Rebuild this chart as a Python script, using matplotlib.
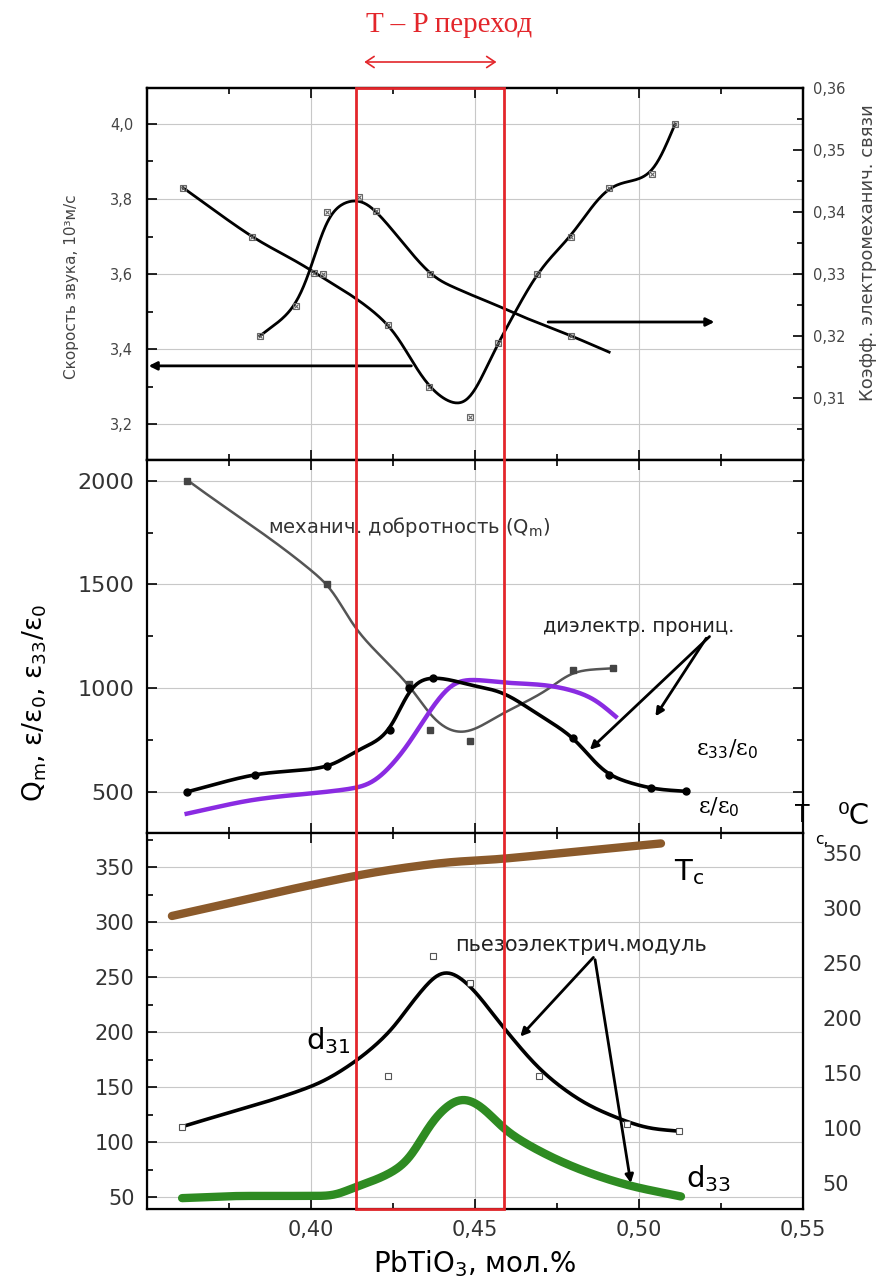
import numpy as np
import matplotlib
matplotlib.use("Agg")
import matplotlib.pyplot as plt
import matplotlib.transforms as mtransforms
from matplotlib.patches import Rectangle, FancyArrowPatch
from matplotlib.ticker import MultipleLocator, FuncFormatter

# ---- data ----
# top panel: speed of sound (left axis), 10^3 m/s
sound_x = [0.361, 0.382, 0.400, 0.4235, 0.436, 0.446, 0.457, 0.469, 0.479, 0.491, 0.504, 0.511]
sound_y = [3.83, 3.70, 3.61, 3.465, 3.30, 3.25, 3.415, 3.60, 3.70, 3.83, 3.87, 4.00]
sound_mx = [0.361, 0.382, 0.4037, 0.4235, 0.436, 0.4486, 0.457, 0.469, 0.4794, 0.491, 0.504, 0.511]
sound_my = [3.83, 3.70, 3.60, 3.465, 3.30, 3.218, 3.415, 3.60, 3.70, 3.83, 3.866, 4.00]

# top panel: electromechanical coupling coefficient (right axis)
kp_x = [0.3844, 0.3953, 0.400, 0.4049, 0.4146, 0.4197, 0.4364, 0.4447, 0.4582, 0.4627, 0.4794, 0.4909]
kp_y = [0.3200, 0.3249, 0.3308, 0.3392, 0.3420, 0.3402, 0.3300, 0.3276, 0.3246, 0.3235, 0.3200, 0.3174]
kp_mx = [0.3844, 0.3953, 0.4008, 0.4049, 0.4146, 0.4197, 0.4364, 0.4794]
kp_my = [0.3200, 0.3249, 0.3301, 0.3400, 0.3425, 0.3402, 0.3300, 0.3200]

# middle panel: mechanical Q
qm_x = [0.3621, 0.4049, 0.4136, 0.4300, 0.4380, 0.4457, 0.4587, 0.4715, 0.4800, 0.4922]
qm_y = [2005, 1502, 1285, 1010, 840, 783, 879, 985, 1075, 1095]
qm_mx = [0.3621, 0.4049, 0.4300, 0.4364, 0.4486, 0.4800, 0.4922]
qm_my = [2000, 1500, 1020, 799, 745, 1085, 1095]

# middle panel: eps33/eps0
e33_x = [0.3621, 0.3828, 0.4049, 0.4135, 0.4242, 0.4300, 0.4371, 0.4500, 0.4587, 0.4686, 0.4800, 0.4858, 0.4908, 0.5036, 0.5143]
e33_y = [498, 581, 621, 693, 797, 998, 1050, 1009, 975, 879, 758, 654, 581, 517, 501]
e33_mx = [0.3621, 0.3828, 0.4049, 0.4242, 0.4300, 0.4371, 0.4800, 0.4908, 0.5036, 0.5143]
e33_my = [498, 581, 621, 797, 998, 1046, 758, 581, 517, 501]

# middle panel: eps/eps0
eps_x = [0.3621, 0.3828, 0.4135, 0.4200, 0.4285, 0.4371, 0.4436, 0.4486, 0.4587, 0.4743, 0.4858, 0.4929]
eps_y = [393, 461, 517, 557, 702, 910, 1026, 1040, 1026, 1007, 951, 862]

# bottom panel: Curie temperature (right axis, deg C)
tc_x = [0.3576, 0.4127, 0.4393, 0.4582, 0.4821, 0.5067]
tc_y = [293, 329, 341, 345, 352, 359]

# bottom panel: d31 and d33
d31_x = [0.3607, 0.4000, 0.4133, 0.4245, 0.4321, 0.4408, 0.4485, 0.4582, 0.4699, 0.4821, 0.4934, 0.5026, 0.5118]
d31_y = [114, 150.5, 173, 202, 232, 256, 242, 206, 166, 138, 122, 113, 110]
d31_mx = [0.3607, 0.4235, 0.4372, 0.4485, 0.4694, 0.4963, 0.5123]
d31_my = [114, 160, 269, 245, 160, 116, 110]

d33_x = [0.3607, 0.3800, 0.4056, 0.4138, 0.4230, 0.4301, 0.4372, 0.4464, 0.4525, 0.4592, 0.4699, 0.4821, 0.4964, 0.5128]
d33_y = [49, 51, 51, 59.5, 70, 85, 120, 140, 131, 111, 91.5, 75, 61, 50.5]

# T-P transition boundaries
tp_left, tp_right = 0.4136, 0.4587


def smooth(x, y, n=400, sigma=0.0025):
    # cubic hermite through the read points, then a light gaussian blur to round the knots
    x = np.asarray(x, float)
    y = np.asarray(y, float)
    h = np.diff(x)
    d = np.diff(y) / h
    m = np.zeros_like(y)
    for k in range(1, len(x) - 1):
        if d[k - 1] * d[k] > 0:
            m[k] = (y[k + 1] - y[k - 1]) / (x[k + 1] - x[k - 1])
    m[0], m[-1] = d[0], d[-1]
    for k in range(len(d)):
        if d[k] == 0:
            m[k] = m[k + 1] = 0
            continue
        a, b = m[k] / d[k], m[k + 1] / d[k]
        s = a * a + b * b
        if s > 9:
            t = 3 / np.sqrt(s)
            m[k], m[k + 1] = t * a * d[k], t * b * d[k]
    xs = np.linspace(x[0], x[-1], n)
    i = np.clip(np.searchsorted(x, xs) - 1, 0, len(h) - 1)
    t = (xs - x[i]) / h[i]
    h00 = 2 * t**3 - 3 * t**2 + 1
    h10 = t**3 - 2 * t**2 + t
    h01 = -2 * t**3 + 3 * t**2
    h11 = t**3 - t**2
    ys = h00 * y[i] + h10 * h[i] * m[i] + h01 * y[i + 1] + h11 * h[i] * m[i + 1]
    if sigma > 0:
        sp = sigma / (xs[1] - xs[0])
        r = int(3 * sp)
        k = np.exp(-0.5 * (np.arange(-r, r + 1) / sp) ** 2)
        k /= k.sum()
        ys = np.convolve(np.pad(ys, r, mode="reflect", reflect_type="odd"), k, mode="valid")
    return xs, ys


W, H = 880, 1287
plt.rcParams["font.family"] = ["DejaVu Sans"]

fig = plt.figure(figsize=(W / 100, H / 100), dpi=100)


def fy(y):
    return 1 - y / H


L, R = 147 / W, 803 / W
ax1 = fig.add_axes([L, fy(460), R - L, fy(88) - fy(460)])
ax2 = fig.add_axes([L, fy(833), R - L, fy(460) - fy(833)], sharex=ax1)
ax3 = fig.add_axes([L, fy(1209), R - L, fy(833) - fy(1209)], sharex=ax1)

comma = lambda fmt: FuncFormatter(lambda v, p: fmt.format(v).replace(".", ","))

for ax in (ax1, ax2, ax3):
    ax.set_xlim(0.35, 0.55)
    ax.xaxis.set_major_locator(MultipleLocator(0.05))
    ax.xaxis.set_minor_locator(MultipleLocator(0.025))
    ax.tick_params(which="both", direction="in", top=True, right=True, width=1.2)
    ax.tick_params(which="major", length=7)
    ax.tick_params(which="minor", length=4)
    ax.grid(True, which="major", color="#c8c8c8", lw=0.8)
    for s in ax.spines.values():
        s.set_linewidth(1.6)
    ax.set_axisbelow(True)

ax1.tick_params(labelbottom=False)
ax2.tick_params(labelbottom=False)

# ---- top panel ----
ax1.set_ylim(3.104, 4.096)
ax1.yaxis.set_major_locator(MultipleLocator(0.2))
ax1.yaxis.set_minor_locator(MultipleLocator(0.1))
ax1.yaxis.set_major_formatter(comma("{:.1f}"))
ax1.tick_params(axis="y", labelsize=10.5, labelcolor="#444", pad=10)
ax1.tick_params(right=False, which="both")

ax1r = ax1.twinx()
ax1r.set_ylim(0.30, 0.36)
ax1r.set_yticks([0.31, 0.32, 0.33, 0.34, 0.35, 0.36])
ax1r.yaxis.set_minor_locator(MultipleLocator(0.005))
ax1r.yaxis.set_major_formatter(comma("{:.2f}"))
ax1r.tick_params(which="both", direction="in", width=1.2, labelsize=10.5, labelcolor="#444", pad=7)
ax1r.tick_params(which="major", length=7)
ax1r.tick_params(which="minor", length=4)
for s in ax1r.spines.values():
    s.set_linewidth(1.6)

xs, ys = smooth(sound_x, sound_y)
ax1.plot(xs, ys, color="k", lw=2)
ax1.plot(sound_mx, sound_my, ls="none", marker="s", ms=5, mfc="none", mec="#666", mew=0.8)
ax1.plot(sound_mx, sound_my, ls="none", marker="x", ms=3.5, color="#666", mew=0.8)

xs, ys = smooth(kp_x, kp_y)
ax1r.plot(xs, ys, color="k", lw=2)
ax1r.plot(kp_mx, kp_my, ls="none", marker="s", ms=5, mfc="none", mec="#666", mew=0.8)
ax1r.plot(kp_mx, kp_my, ls="none", marker="x", ms=3.5, color="#666", mew=0.8)

arrow = dict(arrowstyle="-|>", lw=2, color="k", mutation_scale=12, shrinkA=0, shrinkB=0)
ax1.annotate("", xy=(0.3505, 3.355), xytext=(0.4306, 3.355), arrowprops=arrow)
ax1.annotate("", xy=(0.523, 3.472), xytext=(0.4723, 3.472), arrowprops=arrow)

fig.text(71 / W, fy(287), "Скорость звука, 10³м/с", rotation=90, ha="center", va="center",
         fontsize=11, color="#444")
fig.text(868 / W, fy(253), "Коэфф. электромеханич. связи", rotation=90, ha="center",
         va="center", fontsize=13, color="#444")

# ---- middle panel ----
ax2.set_ylim(300, 2100)
ax2.yaxis.set_major_locator(MultipleLocator(500))
ax2.yaxis.set_minor_locator(MultipleLocator(250))
ax2.tick_params(axis="y", labelsize=16, labelcolor="#333", pad=9)

xs, ys = smooth(qm_x, qm_y)
ax2.plot(xs, ys, color="#555", lw=1.8)
ax2.plot(qm_mx, qm_my, ls="none", marker="s", ms=4, color="#444")

xs, ys = smooth(eps_x, eps_y)
ax2.plot(xs, ys, color="#8a2be2", lw=3.2)

xs, ys = smooth(e33_x, e33_y)
ax2.plot(xs, ys, color="k", lw=2.6)
ax2.plot(e33_mx, e33_my, ls="none", marker="o", ms=5, color="k")

ax2.text(0.387, 1776, "механич. добротность (Q$_\\mathrm{m}$)", fontsize=14, color="#333",
         ha="left", va="center")
ax2.text(0.4707, 1296, "диэлектр. прониц.", fontsize=14, color="#222", ha="left", va="center")
ax2.text(0.5173, 702, "ε$_{33}$/ε$_0$", fontsize=16, family="DejaVu Serif", ha="left", va="center")
ax2.text(0.5179, 423, "ε/ε$_0$", fontsize=16, family="DejaVu Serif", ha="left", va="center")
ax2.annotate("", xy=(0.4850, 702), xytext=(0.5215, 1248), arrowprops=arrow)
ax2.annotate("", xy=(0.5050, 863), xytext=(0.5205, 1240), arrowprops=arrow)

fig.text(35 / W, fy(703), "Q$_\\mathrm{m}$, ε/ε$_0$, ε$_{33}$/ε$_0$", rotation=90, ha="center",
         va="center", fontsize=19)

# ---- bottom panel ----
ax3.set_ylim(39.1, 381.2)
ax3.yaxis.set_major_locator(MultipleLocator(50))
ax3.yaxis.set_minor_locator(MultipleLocator(25))
ax3.xaxis.set_major_formatter(comma("{:.2f}"))
ax3.set_xticks([0.40, 0.45, 0.50, 0.55])
ax3.tick_params(axis="y", labelsize=15, labelcolor="#333", pad=9)
ax3.tick_params(axis="x", labelsize=15, labelcolor="#333", pad=8)

ax3r = ax3.twinx()
ax3r.set_ylim(26.4, 368.5)
ax3r.yaxis.set_major_locator(MultipleLocator(50))
ax3r.tick_params(length=0, labelsize=15, labelcolor="#333", pad=14)
ax3r.set_ylim(26.4, 368.5)

xs, ys = smooth(tc_x, tc_y)
ax3r.plot(xs, ys, color="#8b5a2b", lw=6, solid_capstyle="round")

xs, ys = smooth(d33_x, d33_y)
ax3.plot(xs, ys, color="#2e8b22", lw=6, solid_capstyle="round")

xs, ys = smooth(d31_x, d31_y)
ax3.plot(xs, ys, color="k", lw=2.6)
ax3.plot(d31_mx, d31_my, ls="none", marker="s", ms=5, mfc="white", mec="#555", mew=0.8)

ax3.text(0.3985, 192, "d$_{31}$", fontsize=21, ha="left", va="center")
ax3.text(0.5107, 346, "T$_\\mathrm{c}$", fontsize=21, ha="left", va="center")
ax3.text(0.5143, 67, "d$_{33}$", fontsize=21, ha="left", va="center")
ax3.text(0.4439, 279, "пьезоэлектрич.модуль", fontsize=15, color="#222", ha="left", va="center")
ax3.annotate("", xy=(0.4638, 196), xytext=(0.4861, 268), arrowprops=arrow)
ax3.annotate("", xy=(0.4975, 62.7), xytext=(0.4866, 266), arrowprops=arrow)

ax3.set_xlabel("PbTiO$_3$, мол.%", fontsize=20, labelpad=6)

# right-axis label of the bottom panel
fig.text(802 / W, fy(815), "T", fontsize=17, ha="center", va="center")
fig.text(822 / W, fy(840), "c,", fontsize=11, ha="center", va="center")
fig.text(838 / W, fy(816), "⁰C", fontsize=21, ha="left", va="center")

# ---- T-P transition frame ----
trans = mtransforms.blended_transform_factory(ax3.transData, fig.transFigure)
rect = Rectangle((tp_left, fy(1209)), tp_right - tp_left, fy(88) - fy(1209), transform=trans,
                 fill=False, edgecolor="#e3262b", lw=2, zorder=20, clip_on=False)
fig.add_artist(rect)
fig.text(0.442, fy(25), "T – P переход", transform=trans, fontsize=21, color="#e3262b",
         family="Liberation Serif", ha="center", va="center")
fig.add_artist(FancyArrowPatch(
    (tp_left + 0.0018, fy(62)), (tp_right - 0.0013, fy(62)), transform=trans,
    arrowstyle="<->,head_length=6,head_width=4", color="#e3262b", lw=1.2))

fig.savefig("out.png", dpi=100)
